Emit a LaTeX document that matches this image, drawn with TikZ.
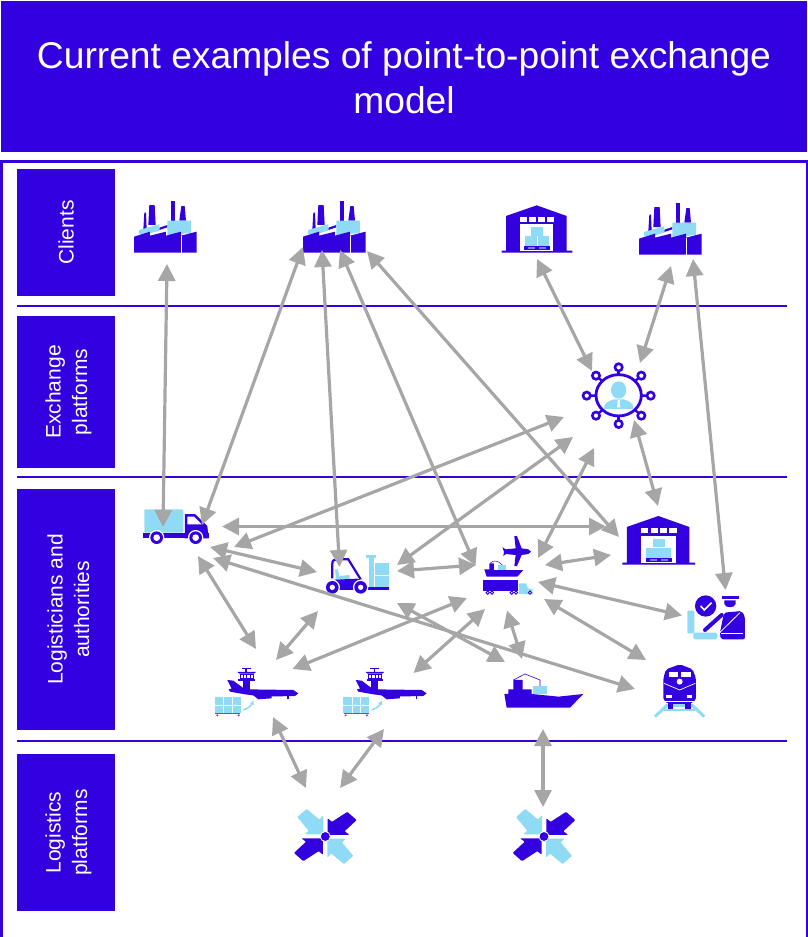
\documentclass[tikz,border=0pt]{standalone}
\usepackage{fontspec}
\setmainfont{Liberation Sans}
\usetikzlibrary{arrows.meta,positioning}
\definecolor{brandblue}{HTML}{3300E0}
\definecolor{paleblue}{HTML}{8FDBF5}
\definecolor{linkgrey}{HTML}{A6A6A6}
\newcommand{\toppad}{\rule{0pt}{20pt}}
\tikzset{
  seclabel/.style={fill=brandblue, text=white, rotate=90, align=center, inner sep=0pt, font=\fontsize{21}{26.5}\selectfont},
  secline/.style={draw=brandblue, line width=1.2pt},
  twoway/.style={{Triangle[length=17pt,width=17pt]}-{Triangle[length=17pt,width=17pt]}, draw=linkgrey, line width=3.2pt},
  zoomed/.style={x=0.3333pt, y=-0.3333pt},
  dark/.style={fill=brandblue},
  pale/.style={fill=paleblue},
  factory/.pic={
    \fill[dark] (70,118) -- (73,68) -- (78,68) -- (80,118) -- cycle;
    \fill[dark] (85,105) -- (88,45) -- (104,45) -- (107,105) -- cycle;
    \fill[dark] (152,32) rectangle (166,92);
    \fill[dark] (178,92) -- (184,48) -- (194,48) -- (198,92) -- cycle;
    \fill[dark] (118,113) -- (142,105) -- (142,112) -- (118,120) -- cycle;
    \fill[pale] (57,132) -- (57,120) -- (118,103) -- (118,122) -- (90,130) -- cycle;
    \fill[pale] (142,92) -- (213,92) -- (213,128) -- (142,138) -- cycle;
    \fill[dark] (42,140) -- (90,125) -- (90,137) -- (138,125) -- (138,137) -- (183,125) -- (183,137) -- (230,125) -- (230,188) -- (42,188) -- cycle;
    \draw[white, line width=0.3pt] (183,137) -- (183,188);
  },
  warehouse/.pic={
    \fill[dark] (35,182) -- (48,182) -- (48,78) -- (140,46) -- (230,78) -- (230,182) -- (247,182) -- (247,188) -- (35,188) -- cycle;
    \fill[white] (90,103) rectangle (190,182);
    \foreach \wx in {90,118,145,172}{\fill[white] (\wx,81) rectangle ++(21,14);}
    \fill[pale] (105,138) rectangle (141,168);
    \fill[pale] (143,138) rectangle (178,168);
    \fill[pale] (123,112) rectangle (160,137);
    \fill[dark] (103,168) rectangle (180,181);
    \fill[paleblue!60!brandblue] (115,172) rectangle (135,177);
    \fill[paleblue!60!brandblue] (147,172) rectangle (167,177);
  },
  exchangehub/.pic={
    \foreach \sx/\sy in {386/532,454/557,482/617,454/677,386/702,318/677,290/617,318/557}{
      \draw[brandblue, line width=2.4pt] (386,616) -- (\sx,\sy);
      \draw[brandblue, line width=2.6pt, fill=white] (\sx,\sy) circle[radius=11];
    }
    \draw[brandblue, line width=2.8pt, fill=white] (386,616) ellipse[x radius=68, y radius=62];
    \fill[pale] (386,600) ellipse[x radius=23, y radius=26];
    \fill[pale] (342,657) .. controls (342,640) and (350,635) .. (372,628) -- (400,628) .. controls (422,635) and (430,640) .. (430,657) -- cycle;
    \fill[white] (383,630) -- (389,630) -- (391,652) -- (381,652) -- cycle;
  },
  deliverytruck/.pic={
    \fill[pale, rounded corners=1pt] (43,58) rectangle (160,128);
    \fill[dark] (165,72) -- (195,72) -- (232,108) -- (236,145) -- (165,145) -- cycle;
    \fill[white] (172,80) -- (192,80) -- (215,103) -- (172,103) -- cycle;
    \fill[dark] (38,128) rectangle (236,145);
    \foreach \wx in {80,197}{
      \fill[white] (\wx,143) circle[radius=23];
      \fill[dark] (\wx,143) circle[radius=19];
      \fill[white] (\wx,143) circle[radius=10];
    }
  },
  forklift/.pic={
    \draw[brandblue, line width=2.2pt] (607,265) -- (607,222) .. controls (607,212) and (612,208) .. (620,208) -- (655,208) -- (692,268);
    \fill[pale] (615,238) -- (624,238) -- (628,258) -- (658,255) -- (660,268) -- (618,270) -- cycle;
    \fill[dark] (600,270) -- (680,266) -- (700,270) -- (715,300) -- (590,300) -- (588,285) -- cycle;
    \fill[pale] (716,205) rectangle (731,292);
    \fill[pale] (708,195) rectangle (738,204);
    \fill[pale] (735,220) rectangle (778,255);
    \fill[pale] (735,258) rectangle (778,290);
    \fill[dark] (715,291) rectangle (778,301);
    \foreach \wx in {607,692}{
      \fill[white] (\wx,292) circle[radius=23];
      \fill[dark] (\wx,292) circle[radius=19];
      \fill[white] (\wx,292) circle[radius=8];
    }
  },
  multimodal/.pic={
    \fill[dark] (403,18) -- (411,18) -- (425,55) -- (445,58) -- (453,65) -- (445,72) -- (425,75) -- (411,108) -- (403,108) -- (407,75) -- (378,72) -- (370,78) -- (372,65) -- (367,52) -- (378,58) -- (407,55) -- cycle;
    \fill[dark] (313,118) -- (328,118) -- (328,100) -- (342,100) -- (342,120) -- (430,120) -- (412,140) -- (320,140) -- cycle;
    \draw[brandblue, line width=0.5pt] (330,100) .. controls (342,88) and (355,92) .. (367,105);
    \fill[pale] (355,106) rectangle (378,120);
    \fill[dark] (310,150) rectangle (413,183);
    \fill[pale] (417,160) -- (438,160) -- (444,175) -- (458,178) -- (458,192) -- (417,192) -- cycle;
    \foreach \wx in {323,336,395,408,450}{
      \draw[brandblue, line width=0.9pt, fill=white] (\wx,188) circle[radius=5];
    }
  },
  customs/.pic={
    \fill[pale, rounded corners=1pt] (682,332) rectangle (703,400);
    \fill[pale, rounded corners=1.5pt] (700,398) rectangle (772,418);
    \fill[dark] (737,318) circle[radius=32];
    \draw[white, line width=1.6pt] (722,318) -- (733,330) -- (755,308);
    \fill[dark] (785,288) rectangle (836,298);
    \fill[dark] (793,301) -- (827,301) -- (827,312) .. controls (825,325) and (795,325) .. (793,312) -- cycle;
    \fill[dark, rounded corners=2pt] (792,338) -- (845,333) -- (855,350) -- (855,418) -- (782,418) -- (780,398) -- cycle;
    \draw[brandblue, line width=4pt, line cap=round] (735,390) -- (785,345);
    \draw[white, line width=0.8pt] (780,397) -- (840,338);
    \draw[white, line width=0.8pt] (782,400) -- (850,400);
  },
  locomotive/.pic={
    \draw[paleblue, line width=3pt] (585,650) -- (620,617) -- (698,617) -- (733,650);
    \draw[paleblue, line width=2.6pt] (612,630) -- (704,630);
    \fill[dark] (625,605) rectangle (640,626);
    \fill[dark] (675,605) rectangle (692,626);
    \fill[dark, rounded corners=2pt] (610,535) -- (618,508) -- (660,493) -- (698,508) -- (708,535) -- (708,600) -- (690,612) -- (625,612) -- (610,600) -- cycle;
    \fill[white] (627,515) rectangle (655,532);
    \fill[white] (662,515) rectangle (692,532);
    \fill[white] (659,545) circle[radius=9];
    \draw[white, line width=0.7pt] (612,550) -- (659,570) -- (706,550);
    \fill[white] (618,585) rectangle (635,595);
    \fill[white] (680,585) rectangle (697,595);
    \draw[white, line width=0.5pt] (612,605) -- (706,605);
  },
  cargoship/.pic={
    \fill[dark] (133,582) -- (145,582) -- (145,568) -- (160,568) -- (160,540) -- (188,540) -- (188,568) -- (215,568) -- (215,582) -- (295,590) -- (370,582) -- (330,623) -- (140,623) -- cycle;
    \draw[brandblue, line width=0.6pt] (160,540) -- (195,522) -- (240,540) -- (240,558);
    \fill[pale] (220,558) rectangle (260,582);
  },
  airfreight/.pic={
    \fill[dark] (335,533) rectangle (362,538);
    \fill[dark] (346,538) rectangle (351,546);
    \fill[dark] (322,546) -- (378,546) -- (372,551) -- (328,551) -- cycle;
    \draw[brandblue, line width=0.9pt] (330,553) rectangle (370,566);
    \foreach \wx in {340,350,360}{\draw[brandblue, line width=0.6pt] (\wx,553) -- (\wx,566);}
    \fill[dark] (325,567) rectangle (375,572);
    \fill[dark] (338,572) rectangle (360,602);
    \fill[dark] (292,570) -- (310,572) -- (345,598) -- (490,600) -- (505,610) -- (495,618) -- (400,620) -- (345,613) -- (300,605) -- (296,598) -- (305,596) -- cycle;
    \fill[dark] (365,612) -- (425,618) -- (425,625) -- (385,628) -- cycle;
    \fill[dark] (472,618) rectangle (476,628);
    \fill[pale] (255,622) rectangle (332,668);
    \draw[white, line width=0.5pt] (281,622) -- (281,668) (307,622) -- (307,668) (255,645) -- (332,645);
    \draw[brandblue!70!white, line width=0.7pt] (256,671) -- (331,671);
    \fill[brandblue!70!white] (262,676) circle[radius=3.5];
    \fill[brandblue!70!white] (326,676) circle[radius=3.5];
    \draw[paleblue, line width=1.6pt, -{Triangle[length=4pt,width=4pt]}] (340,660) .. controls (352,655) and (362,650) .. (371,632);
  },
  converge/.pic={
    \begin{scope}[yscale=0.88]
    \foreach \turn/\shade in {0/brandblue,90/paleblue,180/brandblue,270/paleblue}{
      \begin{scope}[rotate=\turn]
        \fill[\shade, rounded corners=0.8pt] (7,-6) -- (7,-62) -- (20,-50) -- (66,-84) -- (94,-56) -- (58,-18) -- (72,-6) -- cycle;
      \end{scope}
    }
    \end{scope}
    \draw[white, line width=0.8pt, fill=brandblue] (0,0) circle[radius=15];
  }
}
\begin{document}
\begin{tikzpicture}[x=1pt, y=-1pt]
  \useasboundingbox (0,0) rectangle (807,937);
  % title
  \node (titlebar) [fill=brandblue, text=white, minimum width=806pt, minimum height=151pt, inner sep=0pt, align=center, font=\fontsize{37.2}{45}\selectfont] at (404,76.5) {\rule{0pt}{30pt}Current examples of point-to-point exchange\\model};
  \draw[brandblue, line width=3pt] (1.5,937) -- (1.5,161.5) -- (807,161.5) -- (807,937);
  % rows
  \node (clients) [seclabel, minimum width=127pt, minimum height=98pt] at (66,232.5) {Clients};
  \node (exchange) [seclabel, minimum width=152pt, minimum height=98pt] at (66,392) {\toppad Exchange\\platforms};
  \node (logisticians) [seclabel, minimum width=241pt, minimum height=98pt] at (66,609.5) {\toppad Logisticians and\\authorities};
  \node (logistics) [seclabel, minimum width=157pt, minimum height=98pt] at (66,832.5) {\toppad Logistics\\platforms};
  \foreach \y/\name in {306/cliline,477/excline,741/logline}{\draw[secline] (17,\y) coordinate (\name a) -- (787,\y) coordinate (\name b);}
  % icons
  \foreach \x/\y/\name in {120/190/factorya,289/190/factoryb,625/192/factoryc}{\path (\x,\y) pic (\name) [zoomed] {factory};}
  \path (490,190) pic (warehousea) [zoomed] {warehouse};
  \path (610.3,500.2) pic (warehouseb) [zoomed, scale=1.03] {warehouse};
  \path (490,190) pic (platform) [zoomed] {exchangehub};
  \path (130,490) pic (truck) [zoomed] {deliverytruck};
  \path (130,490) pic (lift) [zoomed] {forklift};
  \path (380,530) pic (carrier) [zoomed] {multimodal};
  \path (460,500) pic (officer) [zoomed] {customs};
  \path (460,500) pic (train) [zoomed] {locomotive};
  \path (460,500) pic (ship) [zoomed] {cargoship};
  \foreach \x/\name in {130/planea,258.3/planeb}{\path (\x,490) pic (\name) [zoomed] {airfreight};}
  \foreach \x/\name in {325.3/huba,544/hubb}{\path (\x,836.5) pic (\name) [zoomed] {converge};}
  % links
  \foreach \from/\fx/\fy/\to/\tx/\ty in {
    facatruck/167/264/truckfaca/163/527,
    facbtruck/303/247/truckfacb/202/525,
    facblift/322/250/liftfacb/339.5/567,
    facbcar/340/250/carfacb/475.5/566,
    facbware/367/251/warefacb/619/537,
    waretop/537/259/platware/592/371,
    faccplat/671/266/platfacc/640/363,
    faccoff/693/259/offfacc/725.5/590,
    plattruck/564/417/truckplat/234/547,
    platlift/573/437/liftplat/397/565,
    platcar/594/448/carplat/538/558,
    platware/634/420/wareplat/658/506,
    truckcar/222/526.5/cartruck/606/526.5,
    trucklift/210/547/lifttruck/317/572,
    trucktrain/213/558/traintruck/635/689,
    truckplane/198/556/planetruck/256/649,
    liftplane/318/611/planelift/276/660,
    carplane/467/598/planecar/292.5/669,
    liftcar/397/571/carlift/476/565,
    liftship/397/603/shiplift/505/662,
    carplaneb/485/609/planebcar/413.5/673,
    carship/507/610.5/shipcar/522/659,
    carware/545/565/warecar/611/555,
    caroff/538/582/offcar/682/615.5,
    cartrain/544/599/traincar/646/660,
    planehub/273/717/hubplane/306/788,
    planebhub/384/729/hubplaneb/340/788,
    shiphub/543/729/hubship/543/807}
    {\draw[twoway] (\fx,\fy) coordinate (\from) -- (\tx,\ty) coordinate (\to);}
\end{tikzpicture}
\end{document}
